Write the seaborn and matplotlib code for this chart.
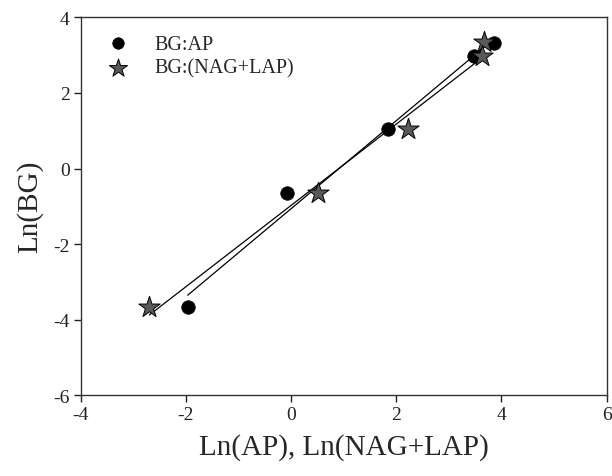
import matplotlib
matplotlib.use("Agg")
import matplotlib.pyplot as plt
import seaborn as sns
import pandas as pd
import numpy as np

# Data
ap_x = [3.865, 3.485, 1.837, -0.07, -1.966]
ap_y = [3.315, 2.98, 1.04, -0.653, -3.67]
nl_x = [3.675, 3.637, 2.23, 0.52, -2.694]
nl_y = [3.35, 2.98, 1.04, -0.653, -3.67]
series_names = ["BG:AP", "BG:(NAG+LAP)"]
x_ticks = [-4, -2, 0, 2, 4, 6]
y_ticks = [-6, -4, -2, 0, 2, 4]

sns.set_style("ticks")
plt.rcParams['font.family'] = ['Liberation Serif', 'DejaVu Serif']

fig = plt.figure(figsize=(6.12, 4.77), dpi=100)
ax = fig.add_axes([0.1319, 0.1692, 0.9913 - 0.1319, 0.9616 - 0.1692])

df_ap = pd.DataFrame({"x": ap_x, "y": ap_y})
df_nl = pd.DataFrame({"x": nl_x, "y": nl_y})

sns.regplot(data=df_ap, x="x", y="y", ax=ax, ci=None, scatter=False,
            line_kws=dict(color="black", lw=0.9), truncate=True)
sns.regplot(data=df_nl, x="x", y="y", ax=ax, ci=None, scatter=False,
            line_kws=dict(color="black", lw=0.9), truncate=True)

sns.scatterplot(data=df_ap, x="x", y="y", ax=ax, marker="o", s=95,
                color="black", edgecolor="black", linewidth=0.5,
                label=series_names[0], zorder=3)
sns.scatterplot(data=df_nl, x="x", y="y", ax=ax, marker="*", s=260,
                color="#595959", edgecolor="black", linewidth=0.7,
                label=series_names[1], zorder=3)

ax.set_xlim(-4, 6)
ax.set_ylim(-6, 4)
ax.set_xticks(x_ticks)
ax.set_yticks(y_ticks)
ax.set_xticklabels([str(t) for t in x_ticks])
ax.set_yticklabels([str(t) for t in y_ticks])
ax.tick_params(axis="both", direction="out", length=5, width=1,
               labelsize=14, colors="#222222", pad=3)
for sp in ax.spines.values():
    sp.set_visible(True)
    sp.set_color("#333333")
    sp.set_linewidth(1.0)

ax.set_xlabel("Ln(AP), Ln(NAG+LAP)", fontsize=21, labelpad=7)
ax.set_ylabel("Ln(BG)", fontsize=21, labelpad=7)

leg = ax.legend(loc="upper left", frameon=False, fontsize=14.5,
                handletextpad=0.8, handlelength=2.0,
                borderaxespad=0.45, labelspacing=0.25,
                borderpad=0.4, markerscale=0.85)

fig.savefig("out.png", dpi=100)
